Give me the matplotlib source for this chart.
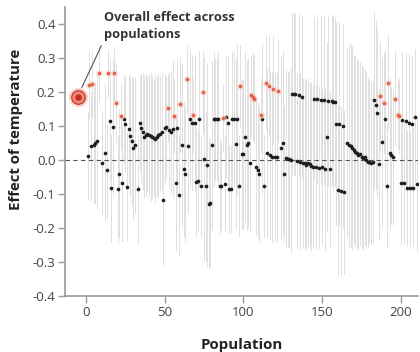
import matplotlib

matplotlib.use("Agg")

import matplotlib.pyplot as plt
from matplotlib.ticker import FuncFormatter

# populations whose effect differs from zero (red) and the rest (black)
red_pop = [2, 4, 8, 14, 18, 19, 22, 52, 56, 60, 64, 68, 74, 87, 98, 105, 106,
           107, 111, 114, 116, 119, 122, 187, 189, 192, 196, 198, 199]
red_eff = [0.22, 0.225, 0.255, 0.255, 0.255, 0.167, 0.13, 0.153, 0.13, 0.165,
           0.238, 0.132, 0.2, 0.125, 0.218, 0.19, 0.185, 0.18, 0.132, 0.227,
           0.218, 0.208, 0.203, 0.188, 0.168, 0.227, 0.18, 0.132, 0.13]
red_err = [0.10, 0.10, 0.08, 0.07, 0.08, 0.12, 0.10, 0.10, 0.11, 0.14, 0.10,
           0.11, 0.12, 0.10, 0.12, 0.12, 0.13, 0.13, 0.11, 0.14, 0.15, 0.16,
           0.15, 0.16, 0.15, 0.14, 0.14, 0.10, 0.11]

black_pop = [1, 3, 5, 6, 7, 10, 12, 13, 15, 16, 17, 20, 21, 23, 24, 25, 26, 27,
             28, 29, 30, 31, 33, 34, 35, 36, 37, 38, 39, 40, 41, 42, 43, 44, 45,
             46, 47, 48, 49, 50, 51, 53, 54, 55, 57, 58, 59, 61, 62, 63, 65, 66,
             67, 69, 70, 71, 72, 73, 75, 76, 77, 78, 79, 80, 81, 82, 83, 84, 85,
             86, 88, 89, 90, 91, 92, 93, 94, 95, 96, 97, 99, 100, 101, 102, 103,
             104, 108, 109, 110, 112, 113, 115, 117, 118, 120, 121, 124, 125,
             126, 127, 128, 129, 130, 131, 132, 133, 134, 135, 136, 137, 138,
             139, 140, 141, 142, 143, 144, 145, 146, 147, 148, 149, 150, 151,
             152, 153, 154, 155, 156, 157, 158, 159, 160, 161, 162, 163, 164,
             166, 167, 168, 169, 170, 171, 172, 173, 174, 175, 176, 177, 178,
             179, 180, 181, 182, 183, 184, 185, 186, 188, 190, 191, 193, 194,
             195, 200, 201, 202, 203, 204, 205, 206, 207, 208, 209, 210]
black_eff = [0.012, 0.04, 0.045, 0.05, 0.055, -0.01, 0.02, -0.03, 0.115, -0.082,
             0.097, -0.085, -0.04, -0.068, 0.12, 0.105, -0.078, 0.09, 0.07,
             0.055, 0.035, 0.045, -0.086, 0.108, 0.093, 0.083, 0.068, 0.073,
             0.078, 0.073, 0.07, 0.068, 0.065, 0.063, 0.068, 0.073, 0.078,
             0.083, -0.118, 0.093, 0.098, 0.088, 0.083, 0.09, -0.068, 0.094,
             -0.103, 0.044, -0.025, -0.04, 0.04, 0.12, 0.11, 0.108, -0.065,
             -0.062, 0.12, -0.077, 0.003, -0.077, -0.015, -0.13, -0.125, 0.044,
             0.12, 0.12, 0.12, 0.12, -0.077, -0.077, -0.07, 0.127, 0.108,
             -0.085, -0.085, 0.12, 0.12, 0.047, 0.12, -0.077, 0.018, 0.018,
             0.068, 0.044, 0.05, -0.01, -0.02, -0.03, -0.04, 0.12, -0.077, 0.02,
             0.015, 0.01, 0.01, 0.01, 0.035, 0.05, -0.04, 0.005, 0.003, 0.002,
             0.0, 0.195, 0.195, 0.193, -0.003, 0.19, -0.005, 0.185, -0.008,
             -0.01, -0.015, -0.01, -0.012, -0.018, -0.02, 0.18, -0.02, 0.18,
             -0.022, 0.178, -0.02, 0.178, -0.025, 0.068, 0.175, -0.025, 0.175,
             0.17, 0.172, 0.105, -0.088, 0.105, -0.09, 0.1, -0.094, 0.05, 0.045,
             0.04, 0.035, 0.03, 0.025, 0.02, 0.015, 0.018, 0.01, 0.005, 0.008,
             0.0, -0.005, -0.005, -0.01, -0.005, 0.177, 0.162, 0.137, -0.012,
             0.053, 0.121, -0.075, 0.02, 0.015, 0.01, -0.068, 0.118, -0.068,
             0.115, -0.083, 0.11, -0.083, 0.106, -0.083, 0.127, -0.07]
black_err = [0.13, 0.16, 0.17, 0.18, 0.20, 0.15, 0.20, 0.14, 0.18, 0.16, 0.20,
             0.16, 0.19, 0.17, 0.13, 0.14, 0.16, 0.16, 0.18, 0.19, 0.21, 0.20,
             0.16, 0.14, 0.16, 0.17, 0.18, 0.18, 0.17, 0.18, 0.19, 0.18, 0.17,
             0.19, 0.18, 0.18, 0.17, 0.17, 0.19, 0.16, 0.15, 0.17, 0.18, 0.20,
             0.20, 0.20, 0.18, 0.24, 0.20, 0.20, 0.20, 0.20, 0.20, 0.20, 0.16,
             0.15, 0.20, 0.15, 0.30, 0.22, 0.30, 0.19, 0.19, 0.25, 0.20, 0.18,
             0.18, 0.20, 0.14, 0.13, 0.14, 0.18, 0.20, 0.13, 0.13, 0.20, 0.20,
             0.25, 0.22, 0.15, 0.22, 0.22, 0.25, 0.25, 0.25, 0.20, 0.20, 0.20,
             0.20, 0.22, 0.15, 0.25, 0.25, 0.25, 0.25, 0.25, 0.27, 0.27, 0.20,
             0.26, 0.26, 0.26, 0.27, 0.24, 0.24, 0.24, 0.26, 0.24, 0.26, 0.24,
             0.25, 0.25, 0.25, 0.25, 0.24, 0.25, 0.24, 0.24, 0.24, 0.25, 0.24,
             0.25, 0.23, 0.25, 0.24, 0.28, 0.25, 0.23, 0.25, 0.26, 0.25, 0.30,
             0.25, 0.30, 0.25, 0.30, 0.24, 0.28, 0.30, 0.30, 0.30, 0.28, 0.28,
             0.28, 0.28, 0.27, 0.27, 0.27, 0.26, 0.26, 0.25, 0.24, 0.24, 0.24,
             0.26, 0.25, 0.25, 0.22, 0.25, 0.20, 0.18, 0.22, 0.20, 0.20, 0.18,
             0.20, 0.18, 0.20, 0.17, 0.20, 0.17, 0.20, 0.18, 0.20, 0.20]

overall_pop = -5
overall_eff = 0.185

x_ticks = [0, 50, 100, 150, 200]
y_ticks = [-0.4, -0.3, -0.2, -0.1, 0.0, 0.1, 0.2, 0.3, 0.4]

plt.rcParams["font.family"] = ["Open Sans", "DejaVu Sans"]

fig = plt.figure(figsize=(4.2, 3.52), dpi=100)
ax = fig.add_axes([0.155, 0.159, 0.84, 0.821])

bar_col = "#e0e0e0"
ax.errorbar(black_pop, black_eff, yerr=black_err, fmt="none",
            ecolor=bar_col, elinewidth=0.7, capsize=0, zorder=1)
ax.errorbar(red_pop, red_eff, yerr=red_err, fmt="none",
            ecolor=bar_col, elinewidth=0.7, capsize=0, zorder=1)

ax.axhline(0, color="#555555", lw=0.8, ls=(0, (4, 3)), zorder=2)

ax.scatter(black_pop, black_eff, s=7, color="#1e1e1e", lw=0, zorder=3)
ax.scatter(red_pop, red_eff, s=24, color="#f8d2c8", alpha=0.6, lw=0, zorder=3)
ax.scatter(red_pop, red_eff, s=7, color="#e2634c", lw=0, zorder=4)

# overall effect marker
ax.scatter([overall_pop], [overall_eff], s=190, color="#f8d3c8", lw=0, zorder=4)
ax.scatter([overall_pop], [overall_eff], s=95, color="#ee8a76",
           edgecolors="#c7372a", lw=0.9, zorder=5)
ax.scatter([overall_pop], [overall_eff], s=22, color="#c62d22", lw=0, zorder=6)

ax.annotate("", xy=(overall_pop + 1.5, overall_eff + 0.02),
            xytext=(10.5, 0.344),
            arrowprops=dict(arrowstyle="-", color="#555555", lw=0.8),
            annotation_clip=False)
ax.text(11.2, 0.437, "Overall effect across\npopulations", ha="left", va="top",
        fontsize=9.2, fontweight="bold", color="#333333", linespacing=1.38,
        clip_on=False)

ax.set_xlim(-13.3, 210.8)
ax.set_ylim(-0.4, 0.45)
ax.set_xticks(x_ticks)
ax.set_yticks(y_ticks)
ax.yaxis.set_major_formatter(FuncFormatter(lambda v, p: f"{v:.1f}".replace("\u2212", "-")))

for side in ("top", "right"):
    ax.spines[side].set_visible(False)
for side in ("left", "bottom"):
    ax.spines[side].set_color("#9a9a9a")
    ax.spines[side].set_linewidth(1.2)
ax.tick_params(colors="#9a9a9a", labelcolor="#444444", labelsize=9.5,
               length=5, width=1, pad=2)

ax.set_xlabel("Population", fontsize=10.8, fontweight="bold", color="#222222")
ax.set_ylabel("Effect of temperature", fontsize=10.8, fontweight="bold",
              color="#222222")
ax.xaxis.set_label_coords(0.5, -0.145)
ax.yaxis.set_label_coords(-0.12, 0.575)

fig.savefig("out.png", dpi=100)
